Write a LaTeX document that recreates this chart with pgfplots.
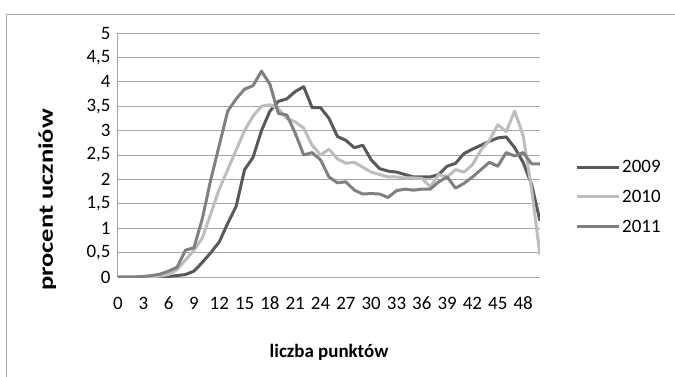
\documentclass[border=0pt]{standalone}
\usepackage{fontspec}
\setmainfont{Carlito}
\usepackage{pgfplots}
\pgfplotsset{compat=1.18}
\definecolor{c2009}{HTML}{595959}
\definecolor{c2010}{HTML}{BDBDBD}
\definecolor{c2011}{HTML}{808080}
\definecolor{gridc}{HTML}{A6A6A6}
\begin{document}
\begin{tikzpicture}
\path[use as bounding box] (-118bp,-100bp) rectangle (557bp,277bp);
\draw[gridc, line width=1bp] (-111bp,-100bp) -- (-111bp,262bp) -- (557bp,262bp);
\begin{axis}[
  at={(0bp,0bp)}, anchor=south west,
  scale only axis, width=422bp, height=244bp,
  xmin=0, xmax=50, ymin=0, ymax=5,
  xtick={0,3,...,48},
  ytick={0,0.5,...,5},
  yticklabels={0,{0,5},1,{1,5},2,{2,5},3,{3,5},4,{4,5},5},
  /pgf/number format/assume math mode=true,
  ymajorgrids, grid style={gridc, line width=1bp},
  axis x line*=bottom, axis y line*=left,
  axis line style={gridc, line width=1bp, -},
  tick style={draw=none},
  ticklabel style={font=\fontsize{19}{22}\selectfont},
  xticklabel style={anchor=base, yshift=-32bp},
  yticklabel style={xshift=-4bp},
  xlabel={liczba punktów}, ylabel={\scalebox{1.4}[1.1]{procent uczniów}},
  label style={font=\fontsize{19}{22}\selectfont\bfseries},
  xlabel style={at={(axis description cs:0.5,-0.307)}, anchor=center},
  ylabel style={at={(axis description cs:-0.168,0.316)}, anchor=center},
  legend style={at={(axis description cs:1.083,0.328)}, anchor=west, draw=none, fill=none, inner sep=0pt,
    font=\fontsize{19}{22}\selectfont, row sep=12bp},
  legend cell align=left,
  legend image code/.code={\draw[#1] (0bp,0bp) -- (42bp,0bp);},
  every axis plot/.append style={line width=3bp, line join=round},
]
\addplot[c2009] coordinates {
(0,0) (1,0) (2,0) (3,0) (4,0) (5,0) (6,0.01) (7,0.03) (8,0.05) (9,0.12)
(10,0.3) (11,0.5) (12,0.72) (13,1.1) (14,1.45) (15,2.2) (16,2.45) (17,3.0) (18,3.4) (19,3.6)
(20,3.65) (21,3.8) (22,3.9) (23,3.47) (24,3.47) (25,3.25) (26,2.88) (27,2.8) (28,2.65) (29,2.7)
(30,2.4) (31,2.22) (32,2.17) (33,2.15) (34,2.1) (35,2.05) (36,2.05) (37,2.05) (38,2.1) (39,2.27)
(40,2.33) (41,2.53) (42,2.62) (43,2.7) (44,2.78) (45,2.85) (46,2.87) (47,2.65) (48,2.35) (49,1.9) (50,1.15)
};
\addlegendentry{2009}
\addplot[c2010] coordinates {
(0,0) (1,0) (2,0) (3,0) (4,0) (5,0.02) (6,0.05) (7,0.15) (8,0.35) (9,0.55)
(10,0.8) (11,1.3) (12,1.8) (13,2.2) (14,2.6) (15,3.0) (16,3.3) (17,3.5) (18,3.53) (19,3.45)
(20,3.25) (21,3.18) (22,3.05) (23,2.7) (24,2.5) (25,2.62) (26,2.42) (27,2.33) (28,2.35) (29,2.25)
(30,2.15) (31,2.1) (32,2.05) (33,2.05) (34,2.03) (35,2.03) (36,2.02) (37,1.85) (38,2.1) (39,2.05)
(40,2.2) (41,2.15) (42,2.3) (43,2.6) (44,2.8) (45,3.12) (46,2.98) (47,3.4) (48,2.9) (49,1.8) (50,0.45)
};
\addlegendentry{2010}
\addplot[c2011] coordinates {
(0,0) (1,0) (2,0) (3,0.01) (4,0.03) (5,0.06) (6,0.12) (7,0.2) (8,0.55) (9,0.6)
(10,1.2) (11,2.0) (12,2.7) (13,3.4) (14,3.65) (15,3.85) (16,3.92) (17,4.22) (18,3.95) (19,3.35)
(20,3.32) (21,2.95) (22,2.5) (23,2.55) (24,2.4) (25,2.05) (26,1.93) (27,1.95) (28,1.78) (29,1.7)
(30,1.71) (31,1.7) (32,1.63) (33,1.77) (34,1.8) (35,1.78) (36,1.8) (37,1.8) (38,1.95) (39,2.05)
(40,1.82) (41,1.92) (42,2.05) (43,2.2) (44,2.35) (45,2.27) (46,2.55) (47,2.48) (48,2.55) (49,2.32) (50,2.32)
};
\addlegendentry{2011}
\end{axis}
\end{tikzpicture}
\end{document}
